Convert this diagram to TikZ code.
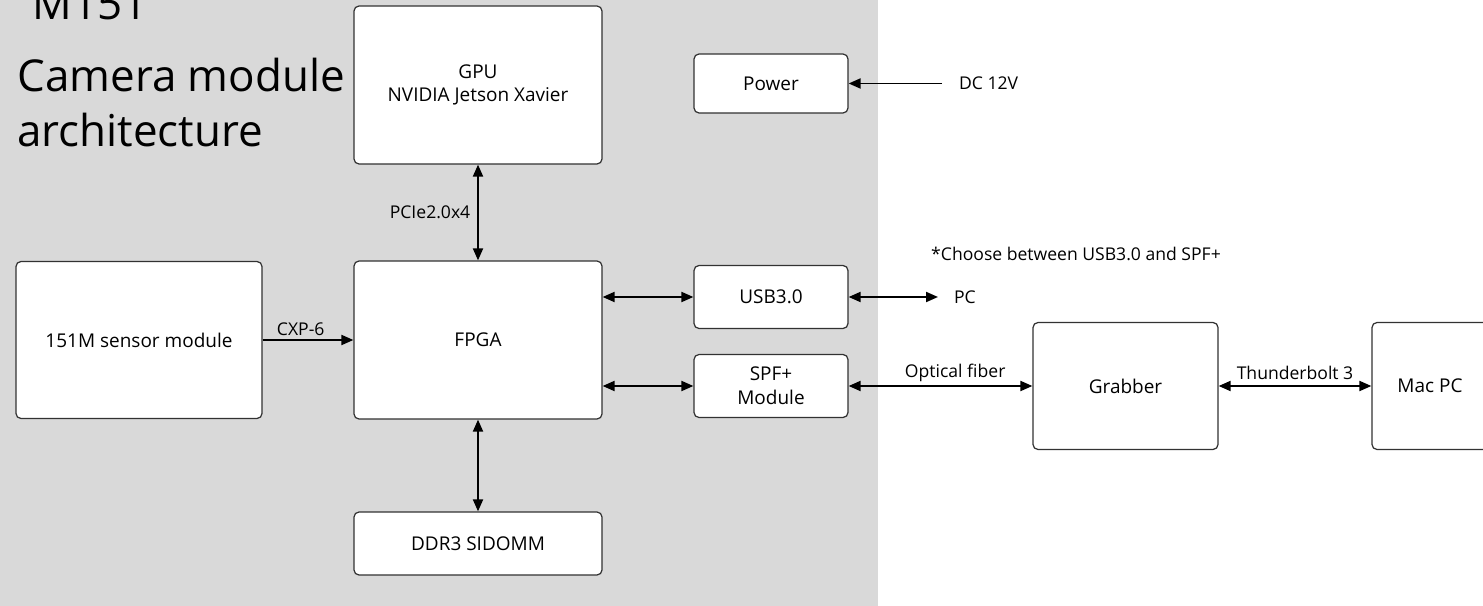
\documentclass[tikz,border=0pt]{standalone}
\usepackage{fontspec}
\setmainfont{Open Sans}
\usetikzlibrary{arrows.meta}
\definecolor{panelgray}{RGB}{217,217,217}
\definecolor{boxline}{RGB}{50,50,50}
\begin{document}
\begin{tikzpicture}[x=0.2mm, y=-0.2mm,
    block/.style={draw=boxline, line width=0.7pt, fill=white, rounded corners=1mm,
                  align=center, inner sep=0pt, font=\fontsize{10.8}{13.5}\selectfont},
    link/.style={line width=1.1pt, -{Triangle[length=2.4mm,width=2mm]}},
    dlink/.style={link, {Triangle[length=2.4mm,width=2mm]}-{Triangle[length=2.4mm,width=2mm]}},
    lbl/.style={font=\fontsize{10}{12}\selectfont, inner sep=1pt},
    heading/.style={anchor=base west, inner sep=0pt, font=\fontsize{25}{30}\selectfont}
]
    \clip (0,0) rectangle (1483,606);
    \fill[panelgray] (0,0) rectangle (878,606);

    % title
    \node[heading] (model) at (32,20) {M151};
    \node[heading] (title) at (17,92) {Camera module};
    \node[heading] (title2) at (17,147) {architecture};

    % blocks
    \node[block, minimum width=49.6mm, minimum height=31.6mm] (gpu) at (478,85) {GPU\\NVIDIA Jetson Xavier};
    \node[block, minimum width=49.6mm, minimum height=31.6mm] (fpga) at (478,340) {FPGA};
    \node[block, minimum width=49.2mm, minimum height=31.4mm] (sensor) at (139,340) {151M sensor module};
    \node[block, minimum width=49.6mm, minimum height=12.6mm] (ddr) at (478,543.5) {DDR3 SIDOMM};
    \node[block, minimum width=30.8mm, minimum height=11.8mm] (power) at (771,83.5) {Power};
    \node[block, minimum width=30.8mm, minimum height=12.6mm] (usb) at (771,297) {USB3.0};
    \node[block, minimum width=30.8mm, minimum height=12.6mm] (spf) at (771,386) {SPF+\\Module};
    \node[block, minimum width=37mm, minimum height=25.4mm] (grabber) at (1125.5,386) {Grabber};
    \node[block, minimum width=23.2mm, minimum height=25.4mm] (mac) at (1430,386) {Mac PC};

    % outside ends
    \coordinate (dc) at (942,83.5);
    \coordinate (pc) at (938,297);
    \node[lbl, anchor=west] (dclabel) at (957,83.5) {DC 12V};
    \node[lbl, anchor=west] (pclabel) at (952,297) {PC};
    \node[lbl] (note) at (1076,254) {*Choose between USB3.0 and SPF+};

    % links
    \draw[dlink] (gpu) -- node[lbl, left=1mm] {PCIe2.0x4} (fpga);
    \draw[dlink] (fpga) -- (ddr);
    \draw[link] (sensor) -- node[lbl, above=1pt, pos=0.42] {CXP-6} (fpga);
    \draw[dlink] (fpga.east |- usb.west) -- (usb.west);
    \draw[dlink] (fpga.east |- spf.west) -- (spf.west);
    \draw[dlink] (usb) -- (pc);
    \draw[dlink] (spf) -- node[lbl, above=1pt, pos=0.58] {Optical fiber} (grabber);
    \draw[dlink] (grabber) -- node[lbl, above=2pt] {Thunderbolt 3} (mac);
    \draw[link] (dc) -- (power);
\end{tikzpicture}
\end{document}
